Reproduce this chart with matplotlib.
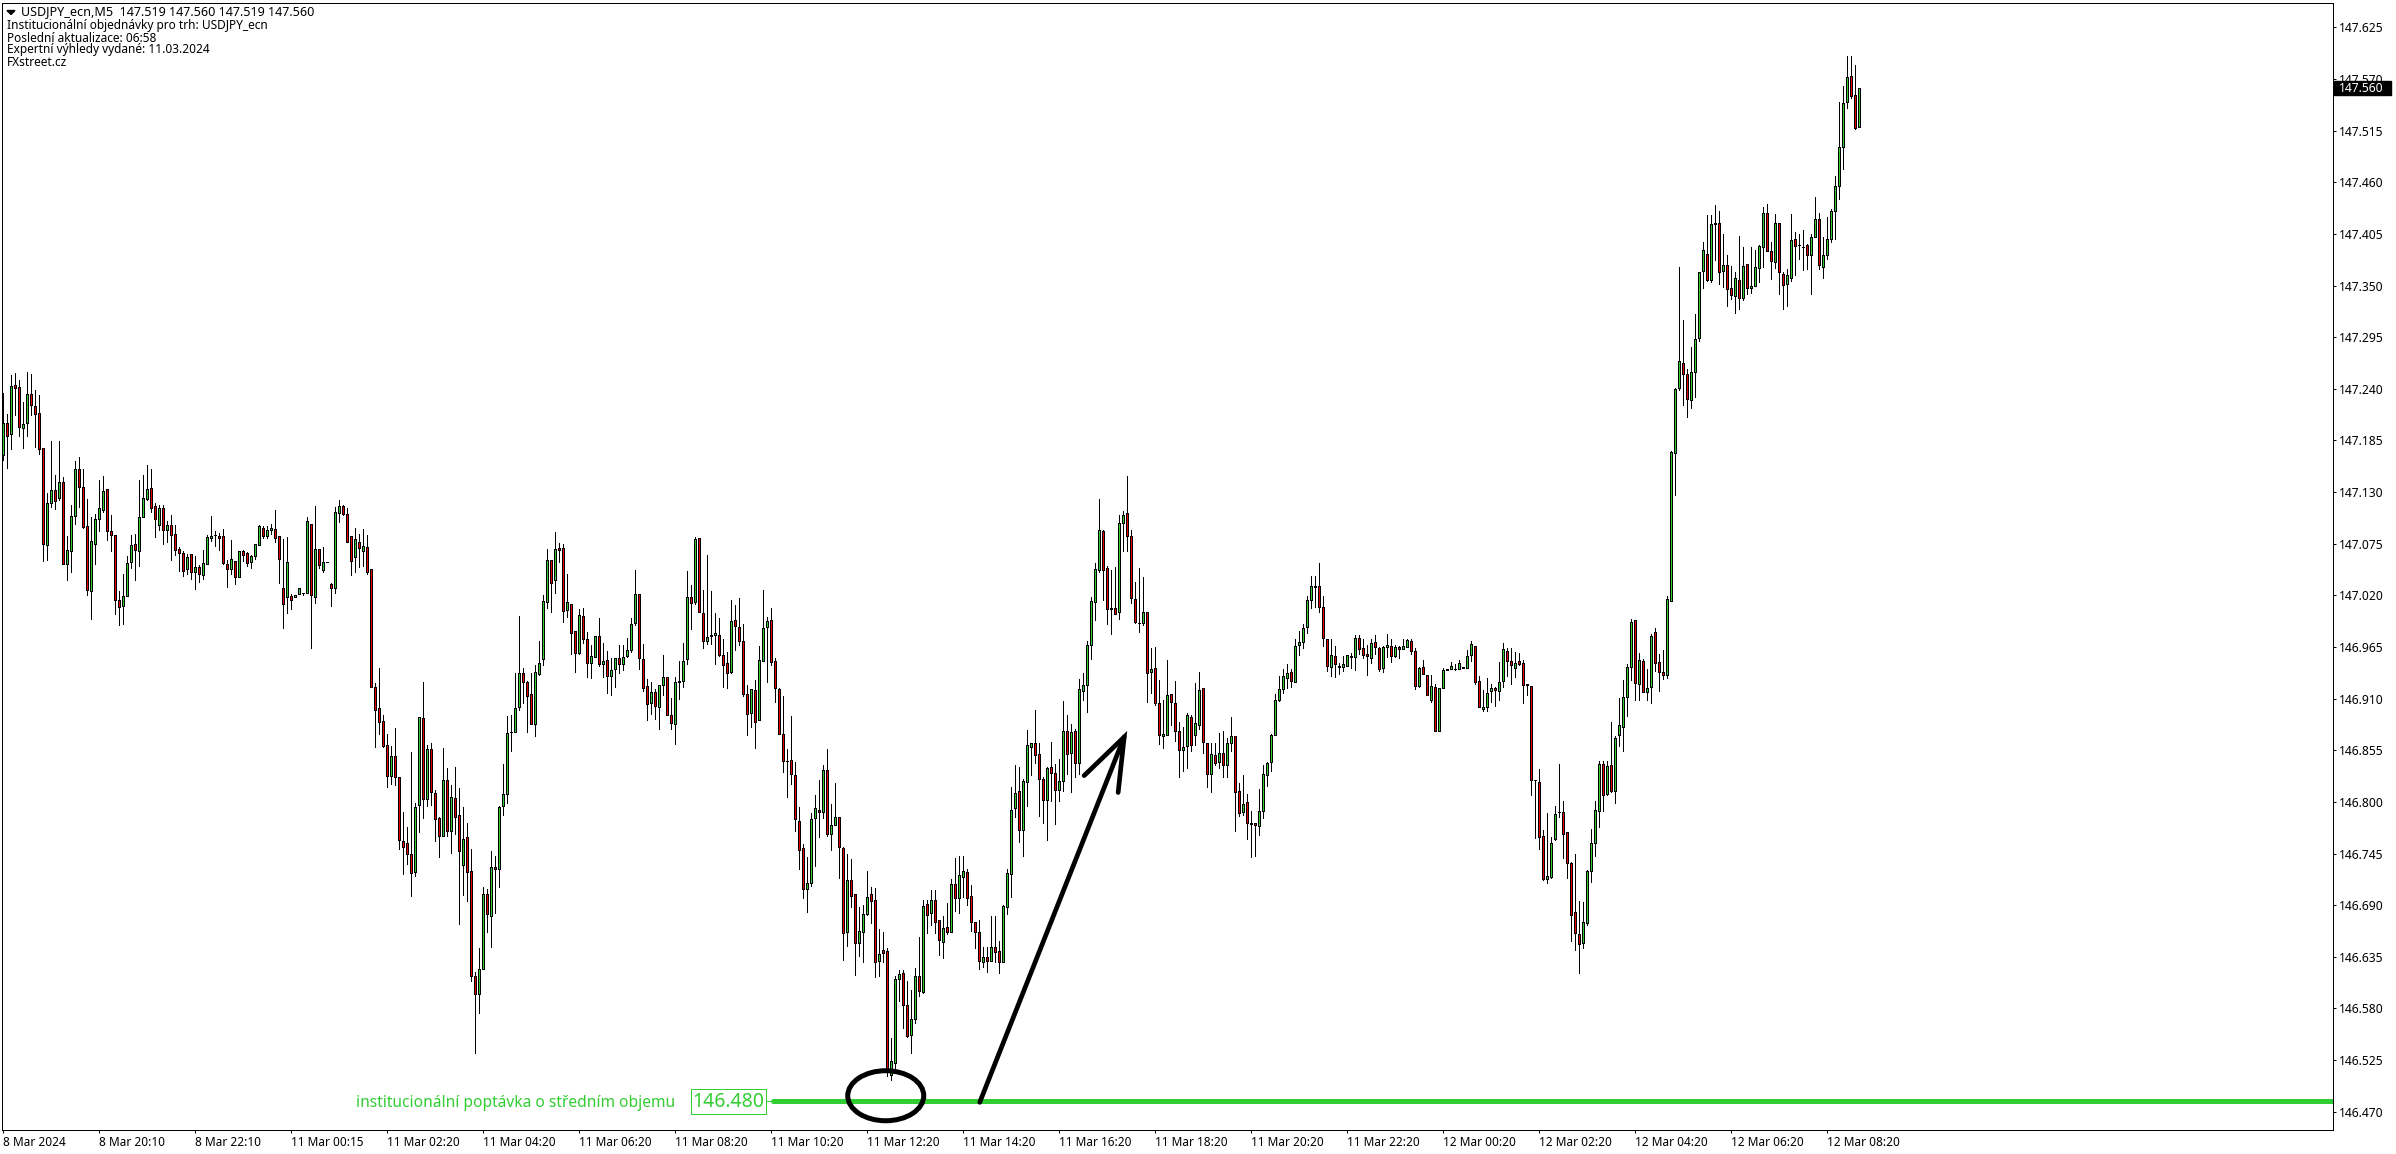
"""USDJPY M5 candle chart with the institutional demand level marked."""
import numpy as np
import matplotlib

matplotlib.use("Agg")
import matplotlib.pyplot as plt
from matplotlib.patches import Ellipse, Rectangle

plt.rcParams["font.family"] = ["Noto Sans", "DejaVu Sans"]

GREEN, RED, LEVEL = "#32cd32", "#e60000", "#32cd32"

# prices as points above 146.000 (1 point = 0.001)
opens = [
    1169,1204,1192,1244,1242,1198,1204,1234,1222,1214,1177,1074,1118,1132,1124,1141,1053,1067,1105,1155,
    1135,1094,1025,1075,1101,1111,1133,1089,1084,1015,1009,1019,1055,1075,1067,1103,1123,1134,1115,1095,
    1113,1090,1095,1085,1069,1065,1048,1064,1045,1050,1042,1053,1081,1084,1083,1083,1053,1048,1057,1040,
    1067,1065,1055,1062,1074,1092,1083,
    1090,1091,1083,1028,1018,1019,1018,1021,1023,1023,1096,1018,1069,1047,1055,1032,1028,1108,1115,1107,
    1083,1061,1077,1067,1072,1048,922,900,886,861,828,849,826,758,756,744,725,797,889,803,
    856,809,783,764,823,769,804,786,733,763,726,615,595,622,702,678,731,728,796,808,
    874,874,901,937,928,915,883,936,
    952,1013,1058,1036,1070,1070,1004,1011,982,959,998,973,948,954,977,947,951,934,941,953,
    947,955,962,990,1021,952,923,905,917,901,924,933,892,883,928,929,952,1018,1013,1081,
    1001,971,977,978,978,956,948,938,994,986,971,915,895,919,887,950,986,994,950,920,
    872,844,845,829,780,751,707,
    714,783,791,789,834,766,775,784,751,661,717,702,650,661,681,702,695,630,642,641,
    509,522,611,618,584,552,569,614,598,691,682,696,674,651,667,661,713,698,720,725,
    700,672,661,629,635,630,645,641,629,688,723,794,812,770,821,858,863,851,824,802,
    837,831,813,822,875,852,875,841,
    918,924,967,1013,1047,1089,1049,1005,1006,1002,1097,1108,1083,1016,991,991,1002,938,943,905,
    870,871,915,905,876,855,859,890,871,882,921,863,830,850,842,852,839,863,870,812,
    789,800,777,778,774,790,829,842,871,908,920,932,938,928,967,970,986,1015,1029,1030,
    1008,974,944,955,945,944,945,
    955,954,975,964,957,953,970,964,943,965,966,955,965,963,965,971,961,923,944,935,
    909,922,876,921,940,941,942,941,943,943,956,966,929,899,901,918,921,918,929,961,
    950,943,950,948,926,923,823,821,764,718,720,760,789,789,768,735,683,659,650,671,
    726,756,790,840,808,839,812,871,
    880,912,944,994,926,950,917,922,981,949,938,935,1014,1172,1241,1267,1256,1228,1258,1294,
    1365,1384,1356,1416,1417,1365,1372,1347,1339,1356,1337,1373,1347,1349,1369,1391,1427,1387,1375,1417,
    1362,1352,1358,1399,1393,1391,1393,1382,1402,1421,1370,1382,1399,1429,1456,1497,1545,1573,1553,1519,
]
closes = [
    1204,1190,1243,1241,1199,1203,1234,1223,1213,1176,1075,1118,1132,1120,1141,1053,1068,1104,1155,1135,
    1093,1026,1078,1101,1113,1131,1089,1084,1015,1008,1019,1054,1074,1068,1103,1124,1133,1113,1101,1113,
    1090,1095,1084,1068,1065,1046,1061,1045,1050,1043,1054,1082,1083,1084,1081,1054,1048,1059,1039,1067,
    1063,1054,1062,1075,1094,1083,1090,
    1092,1081,1059,1011,1055,1015,1020,1028,1023,1099,1020,1069,1052,1055,1055,1028,1109,1115,1107,1077,
    1057,1080,1070,1073,1045,922,898,885,860,828,849,827,759,752,745,724,795,890,803,856,
    811,782,764,823,769,805,784,748,760,725,614,595,622,702,681,731,729,795,808,873,
    874,900,937,928,913,883,938,948,
    1014,1058,1033,1069,1068,1003,1013,980,959,999,974,948,955,977,947,950,934,940,953,947,
    954,962,989,1021,953,921,904,917,902,924,933,892,884,928,929,950,1018,1012,1080,1002,
    971,976,978,980,956,946,937,993,987,971,915,894,920,885,951,985,993,949,921,872,
    844,843,830,782,749,707,714,
    782,794,789,834,766,775,784,752,660,717,700,650,662,681,699,694,629,638,639,513,
    524,611,617,584,551,569,614,599,689,680,695,672,653,666,661,713,698,722,726,698,
    672,661,630,635,630,645,640,629,689,724,791,809,770,822,861,863,850,824,802,836,
    831,813,822,876,851,874,841,920,
    924,967,1014,1048,1090,1047,1005,1007,1000,1097,1106,1083,1017,992,990,1002,937,942,905,871,
    872,914,906,875,855,858,893,861,884,919,864,830,851,841,852,839,863,870,811,788,
    798,777,776,775,790,830,841,871,909,920,934,937,929,966,970,985,1015,1030,1030,1008,
    975,945,956,947,944,947,956,
    954,975,963,956,955,969,965,941,965,967,955,965,963,966,972,961,923,943,936,914,
    923,876,921,940,941,945,942,948,944,955,968,928,901,901,916,921,919,928,963,950,
    946,948,947,925,924,823,823,763,718,721,756,787,789,766,735,680,660,649,672,726,
    756,791,840,807,838,812,868,882,
    912,944,992,927,951,917,921,977,948,938,935,1016,1173,1240,1270,1256,1229,1258,1293,1364,
    1388,1356,1416,1417,1364,1372,1346,1340,1358,1337,1371,1347,1349,1370,1392,1427,1387,1376,1417,1364,
    1351,1361,1398,1392,1393,1391,1383,1402,1421,1372,1383,1400,1429,1456,1497,1544,1572,1552,1518,1560,
]
highs = [
    1236,1213,1255,1257,1249,1226,1258,1256,1239,1233,1177,1129,1184,1148,1184,1146,1083,1116,1163,1167,
    1155,1123,1103,1107,1143,1147,1133,1106,1084,1025,1043,1062,1084,1085,1143,1148,1159,1155,1118,1116,
    1116,1099,1106,1095,1071,1067,1064,1064,1062,1052,1068,1084,1104,1089,1086,1091,1058,1079,1057,1067,
    1068,1066,1063,1075,1095,1094,1094,
    1096,1111,1083,1080,1082,1021,1020,1028,1023,1103,1096,1115,1069,1072,1055,1033,1114,1121,1116,1113,
    1083,1092,1085,1091,1084,1048,927,943,893,872,859,879,826,789,773,853,799,890,928,861,
    863,813,784,857,836,818,837,815,795,778,750,619,644,709,707,748,742,796,840,891,
    892,937,998,943,929,937,946,971,
    1020,1069,1058,1087,1076,1075,1043,1011,982,1005,1006,981,967,977,996,969,961,953,953,967,
    967,975,996,1047,1021,968,931,928,920,924,956,933,911,933,950,969,1046,1031,1082,1081,
    1026,1063,1025,1001,996,973,960,1015,1010,1017,989,924,920,930,966,1026,997,1006,953,921,
    913,856,891,842,795,755,741,
    788,807,823,839,856,798,820,784,752,744,739,702,688,690,726,709,708,665,661,644,
    548,614,621,621,609,600,623,656,695,696,706,706,674,678,692,718,740,742,742,728,
    711,672,674,645,645,678,678,652,690,729,816,839,837,824,877,863,898,863,827,837,
    864,840,846,907,892,883,878,931,
    937,971,1018,1054,1123,1090,1051,1047,1050,1106,1110,1147,1090,1034,1049,1039,1002,964,965,930,
    909,951,915,929,885,880,895,892,927,938,921,863,863,863,873,875,868,890,870,820,
    829,808,790,778,814,839,842,872,915,934,941,947,942,974,982,989,1019,1041,1041,1054,
    1019,974,974,966,948,955,956,
    959,978,978,973,967,974,978,965,966,979,974,967,966,974,974,974,964,944,951,935,
    935,926,921,943,941,949,947,951,944,962,971,966,934,919,932,926,922,949,969,964,
    964,960,959,951,926,923,823,835,770,788,763,796,840,801,768,736,744,694,693,727,
    771,801,844,843,843,885,870,911,
    930,947,995,994,959,952,941,979,985,957,962,1019,1174,1241,1370,1313,1261,1285,1320,1364,
    1396,1425,1425,1436,1429,1405,1382,1371,1364,1403,1391,1373,1391,1388,1393,1434,1437,1396,1426,1417,
    1364,1368,1426,1407,1405,1409,1394,1405,1444,1427,1402,1423,1432,1467,1545,1562,1594,1594,1585,1560,
]
lows = [
    1164,1156,1176,1212,1190,1177,1190,1212,1178,1170,1057,1058,1114,1112,1122,1053,1036,1045,1096,1114,
    1092,1020,995,1053,1089,1109,1079,1067,1000,988,989,1019,1049,1036,1051,1103,1122,1109,1082,1090,
    1075,1077,1058,1063,1046,1041,1043,1037,1027,1034,1037,1053,1078,1073,1068,1053,1029,1043,1032,1040,
    1057,1051,1049,1059,1074,1081,1081,
    1085,1077,1033,985,1001,1005,1018,1021,1020,1023,964,1012,1049,1045,1055,1009,1023,1098,1106,1077,
    1042,1045,1050,1051,1043,922,858,872,858,816,819,818,750,723,734,700,721,768,783,796,
    797,758,741,764,764,746,766,670,701,694,609,533,575,622,661,645,682,709,786,799,
    854,874,898,905,874,883,870,935,
    946,1007,1002,1023,1055,992,997,958,938,958,969,933,932,954,945,933,916,914,922,937,
    940,954,960,988,942,918,887,894,888,878,914,892,878,862,910,922,947,984,1011,1002,
    964,968,968,947,955,922,921,937,962,967,913,871,880,857,887,950,928,946,906,872,
    832,805,819,769,729,698,683,
    710,732,763,783,764,749,775,719,632,646,688,616,636,629,679,671,613,614,629,508,
    504,513,588,559,550,532,564,593,596,660,669,660,637,634,659,661,684,682,699,690,
    662,644,622,624,619,630,629,618,629,681,699,784,757,742,796,829,841,785,778,759,
    801,776,801,812,830,810,826,830,
    908,896,952,994,1045,1015,989,979,1000,995,1067,1067,1012,990,981,988,906,916,903,862,
    857,871,882,865,826,833,836,854,861,878,852,816,811,839,836,827,827,854,769,785,
    786,760,741,742,765,783,817,833,871,907,916,921,922,928,956,964,980,1007,1008,1002,
    966,939,934,933,936,939,945,
    943,940,957,953,935,948,958,939,938,954,949,954,953,963,965,957,920,922,936,914,
    906,876,876,921,940,941,940,941,943,943,950,926,901,897,897,906,902,908,922,934,
    926,933,946,905,914,807,761,750,717,714,719,759,784,740,719,652,642,618,644,669,
    715,742,773,790,807,811,799,859,
    854,891,930,908,909,917,909,905,939,918,931,932,1014,1127,1239,1223,1210,1219,1231,1291,
    1347,1355,1354,1377,1352,1348,1328,1336,1321,1325,1335,1341,1342,1349,1354,1370,1387,1357,1369,1341,
    1325,1328,1355,1361,1378,1366,1368,1341,1402,1368,1358,1378,1396,1399,1442,1474,1539,1550,1517,1519,
]

price_ticks = [147.625 - 0.055 * i for i in range(22)]
time_labels = ["8 Mar 2024", "8 Mar 20:10", "8 Mar 22:10", "11 Mar 00:15", "11 Mar 02:20", "11 Mar 04:20",
               "11 Mar 06:20", "11 Mar 08:20", "11 Mar 10:20", "11 Mar 12:20", "11 Mar 14:20", "11 Mar 16:20",
               "11 Mar 18:20", "11 Mar 20:20", "11 Mar 22:20", "12 Mar 00:20", "12 Mar 02:20", "12 Mar 04:20",
               "12 Mar 06:20", "12 Mar 08:20"]
header = ["Institucionální objednávky pro trh: USDJPY_ecn", "Poslední aktualizace: 06:58",
          "Expertní výhledy vydané: 11.03.2024", "FXstreet.cz"]
demand_level = 146.481
last_price = 147.560

W, H = 2396, 1154
fig = plt.figure(figsize=(W / 100, H / 100), dpi=100, facecolor="white")
ax = fig.add_axes([2 / W, 1 - 1130 / H, 2331 / W, 1127 / H])

o, c = 146 + np.array(opens) / 1000, 146 + np.array(closes) / 1000
hi, lo = 146 + np.array(highs) / 1000, 146 + np.array(lows) / 1000
x = np.arange(len(o))
ax.vlines(x, lo, hi, color="black", lw=0.72, antialiased=False, zorder=2)
ax.bar(x, np.abs(c - o), 0.5, np.minimum(o, c), color=[GREEN if b >= a else RED for a, b in zip(o, c)],
       edgecolor="black", lw=0.72, antialiased=False, zorder=3)

ax.set_xlim(-0.325, 582.4)
ax.set_ylim(146.4505, 147.6509)

# demand level, its label and the hand-drawn marks
ax.plot([192.5, 582.4], [demand_level] * 2, color=LEVEL, lw=3.6, solid_capstyle="round", zorder=4)
ax.plot([190.7, 192.5], [demand_level] * 2, color=LEVEL, lw=0.72, zorder=4)
ax.add_patch(Rectangle((171.9, 146.468), 18.8, 0.026, fill=False, ec=LEVEL, lw=0.72, zorder=4))
ax.text(181.3, 146.480, "146.480", color=LEVEL, fontsize=14, ha="center", va="center", zorder=5)
ax.text(167.9, 146.479, "institucionální poptávka o středním objemu", color=LEVEL, fontsize=11.2,
        ha="right", va="center", zorder=5)
ax.add_patch(Ellipse((220.6, 146.487), 19, 0.0533, fill=False, ec="black", lw=3.6, zorder=6))
ax.plot([244.1, 280.2], [146.480, 146.869], color="black", lw=3.4, solid_capstyle="round", zorder=6)
ax.plot([270.2, 280.2, 278.7], [146.828, 146.869, 146.810], color="black", lw=3.4,
        solid_capstyle="round", solid_joinstyle="miter", zorder=6)

ax.yaxis.tick_right()
ax.set_yticks(price_ticks, [f"{v:.3f}" for v in price_ticks])
ax.set_xticks(range(0, 457, 24), time_labels, ha="left")
ax.tick_params(axis="both", length=2.2, width=0.72, pad=2.4)
ax.tick_params(axis="y", labelsize=8.7)
ax.tick_params(axis="x", labelsize=8.5)
for s in ax.spines.values():
    s.set_linewidth(0.72)

# last price tag sits over the axis labels
tr = ax.get_yaxis_transform()
ax.add_patch(Rectangle((1.0004, last_price - 0.0075), 57 / 2331, 0.015, transform=tr, color="black",
                       clip_on=False, zorder=10))
ax.text(1 + 6 / 2331, last_price, f"{last_price:.3f}", transform=tr, color="white", fontsize=8.7,
        va="center", ha="left", zorder=11)

# top-left info block
ax.fill([5 / 2331, 13 / 2331, 9 / 2331], [1 - 7.5 / 1127, 1 - 7.5 / 1127, 1 - 11.5 / 1127],
        color="black", transform=ax.transAxes, clip_on=False, zorder=7)
fig.text(21 / W, 1 - 12 / H, "USDJPY_ecn,M5  147.519 147.560 147.519 147.560", fontsize=9.05, va="center")
for ypx, line in zip([26, 38, 49, 62], header):
    fig.text(7 / W, 1 - ypx / H, line, fontsize=8.55, va="center")

fig.savefig("out.png", dpi=100)
